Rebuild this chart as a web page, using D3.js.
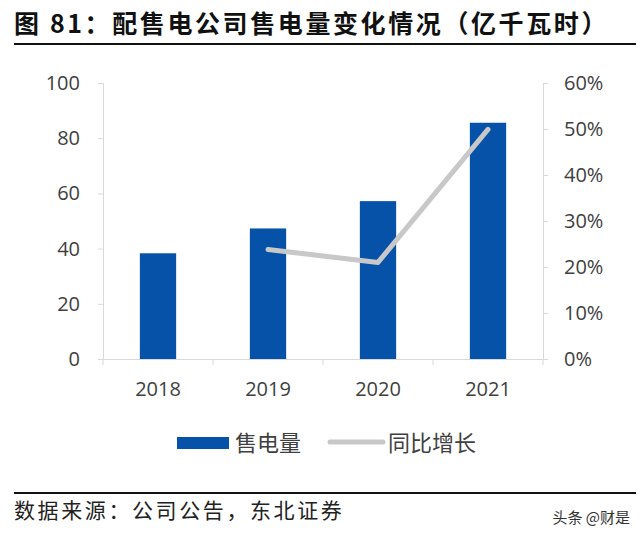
<!DOCTYPE html>
<html><head><meta charset="utf-8">
<script src="https://cdn.jsdelivr.net/npm/d3@7/dist/d3.min.js"></script>
<style>body{margin:0;background:#fff}svg{display:block}</style>
</head><body><svg id="c" width="640" height="540"></svg>
<script>
const title = "图 81：配售电公司售电量变化情况（亿千瓦时）";
const source = "数据来源：公司公告，东北证券";
const watermark = "头条 @财是";
const years = ["2018", "2019", "2020", "2021"];
const sales = [38.3, 47.3, 57.2, 85.6];
const growthYears = ["2019", "2020", "2021"];
const growth = [0.238, 0.210, 0.499];
const leftTicks = [0, 20, 40, 60, 80, 100];
const rightTicks = [0, 0.1, 0.2, 0.3, 0.4, 0.5, 0.6];
const legendNames = ["售电量", "同比增长"];

const svg = d3.select("#c");
const M = {l: 103, r: 543, t: 83, b: 359};
const font = "'Open Sans','Noto Sans CJK SC',sans-serif";
const cjk = "'Noto Sans CJK SC',sans-serif";
const blue = "#0552a8", gray = "#c8c8c8", axisC = "#d9d9d9", txt = "#404040";

// title
svg.append("text").attr("x", 14).attr("y", 33).text(title)
  .attr("font-family", cjk).attr("font-weight", "bold").attr("font-size", 25)
  .attr("letter-spacing", 2.6).attr("fill", "#111");
svg.append("line").attr("x1", 14).attr("x2", 636).attr("y1", 44).attr("y2", 44)
  .attr("stroke", "#111").attr("stroke-width", 2);

const x = d3.scaleBand().domain(years).range([M.l, M.r]).paddingInner(0.67).paddingOuter(0.335);
const xb = d3.scaleBand().domain(years).range([M.l, M.r]);
const yL = d3.scaleLinear().domain([0, 100]).range([M.b, M.t]);
const yR = d3.scaleLinear().domain([0, 0.6]).range([M.b, M.t]);

// left axis
const gl = svg.append("g").attr("transform", `translate(${M.l},0)`)
  .call(d3.axisLeft(yL).tickValues(leftTicks).tickSize(5).tickPadding(18));
gl.select(".domain").attr("stroke", axisC);
gl.selectAll(".tick line").attr("stroke", axisC);
gl.selectAll("text").attr("font-family", font).attr("font-size", 20).attr("fill", txt);

// right axis
const gr = svg.append("g").attr("transform", `translate(${M.r},0)`)
  .call(d3.axisRight(yR).tickValues(rightTicks).tickFormat(d3.format(".0%")).tickSize(5).tickPadding(16));
gr.select(".domain").attr("stroke", axisC);
gr.selectAll(".tick line").attr("stroke", axisC);
gr.selectAll("text").attr("font-family", font).attr("font-size", 20).attr("fill", txt);

// bars
svg.append("g").selectAll("rect").data(years).join("rect")
  .attr("x", d => x(d)).attr("width", x.bandwidth())
  .attr("y", (d, i) => yL(sales[i])).attr("height", (d, i) => M.b - yL(sales[i]))
  .attr("fill", blue);

// x axis
const gx = svg.append("g").attr("transform", `translate(0,${M.b})`)
  .call(d3.axisBottom(xb).tickSize(0).tickPadding(23));
gx.select(".domain").attr("stroke", axisC);
gx.selectAll("text").attr("font-family", font).attr("font-size", 20).attr("fill", txt);
const bounds = years.map(d => xb(d)).concat([M.r]);
svg.append("g").selectAll("line").data(bounds).join("line")
  .attr("x1", d => d).attr("x2", d => d).attr("y1", M.b).attr("y2", M.b + 6)
  .attr("stroke", axisC);

// line
const line = d3.line().x((d, i) => xb(growthYears[i]) + xb.bandwidth() / 2).y(d => yR(d));
svg.append("path").datum(growth).attr("d", line).attr("fill", "none")
  .attr("stroke", gray).attr("stroke-width", 5).attr("stroke-linecap", "round").attr("stroke-linejoin", "round");

// legend
svg.append("rect").attr("x", 177).attr("y", 437).attr("width", 52).attr("height", 12).attr("fill", blue);
svg.append("text").attr("x", 235).attr("y", 451).text(legendNames[0])
  .attr("font-family", cjk).attr("font-size", 22).attr("fill", txt);
svg.append("line").attr("x1", 330).attr("x2", 383).attr("y1", 442).attr("y2", 442)
  .attr("stroke", gray).attr("stroke-width", 5).attr("stroke-linecap", "round");
svg.append("text").attr("x", 388).attr("y", 451).text(legendNames[1])
  .attr("font-family", cjk).attr("font-size", 22).attr("fill", txt);

// footer
svg.append("line").attr("x1", 14).attr("x2", 636).attr("y1", 493).attr("y2", 493)
  .attr("stroke", "#111").attr("stroke-width", 2);
svg.append("text").attr("x", 14).attr("y", 518).text(source)
  .attr("font-family", cjk).attr("font-size", 21).attr("letter-spacing", 2.6).attr("fill", "#222");
svg.append("text").attr("x", 630).attr("y", 523).attr("text-anchor", "end").text(watermark)
  .attr("font-family", cjk).attr("font-size", 15).attr("fill", "#333");
</script></body></html>
